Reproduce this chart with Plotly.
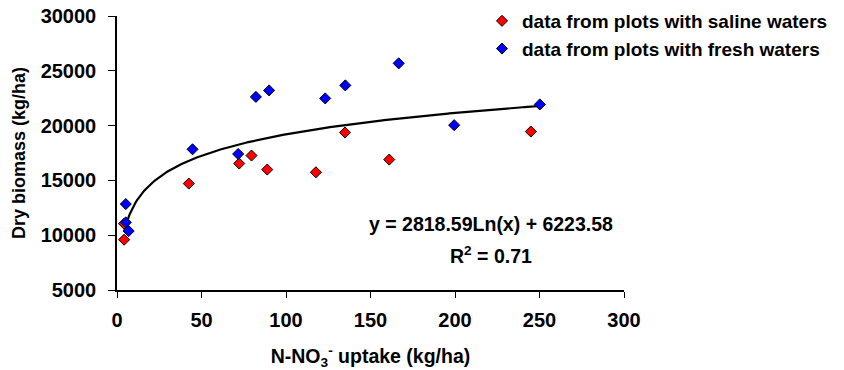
import numpy as np
import plotly.graph_objects as go

# Saline-water plots
saline_x = [4.2, 4.2, 42.5, 72.3, 79.6, 88.9, 117.7, 134.9, 161.1, 244.9]
saline_y = [9590, 11050, 14710, 16540, 17270, 15990, 15740, 19370, 16900, 19460]

# Fresh-water plots
fresh_x = [5.2, 5.2, 6.9, 44.7, 71.7, 82.2, 90.0, 123.2, 135.1, 166.7, 199.5, 250.2]
fresh_y = [12840, 11170, 10380, 17840, 17410, 22620, 23210, 22480, 23670, 25680, 20040, 21930]

# Logarithmic trendline coefficients (from chart label)
fit_a = 2818.59
fit_b = 6223.58
fit_r2 = 0.71
fit_x_range = [4.5, 250]

x_ticks = [0, 50, 100, 150, 200, 250, 300]
y_ticks = [5000, 10000, 15000, 20000, 25000, 30000]
y_tick_labels = ["5000", "10000", "15000", "20000", "25000", "30000"]

FONT = "Arial, Liberation Sans, sans-serif"

W, H = 844, 370
ML, MR, MT, MB = 117, 2, 2, 80
plot_right_px = 624
plot_top_px = 16
paper_w = W - ML - MR
paper_h = H - MT - MB

fx = np.linspace(fit_x_range[0], fit_x_range[1], 300)
fy = fit_a * np.log(fx) + fit_b

fig = go.Figure()
fig.add_trace(go.Scatter(
    x=fx, y=fy, mode="lines", line=dict(color="black", width=2.2),
    showlegend=False, hoverinfo="skip"))
fig.add_trace(go.Scatter(
    x=saline_x, y=saline_y, mode="markers", name="data from plots with saline waters",
    marker=dict(symbol="diamond", size=8.5, color="#FF0000", line=dict(color="black", width=1)),
    legendgroup="a"))
fig.add_trace(go.Scatter(
    x=fresh_x, y=fresh_y, mode="markers", name="data from plots with fresh waters",
    marker=dict(symbol="diamond", size=8.5, color="#0000FF", line=dict(color="black", width=1)),
    legendgroup="b"))

fig.add_annotation(x=221.3, y=11050, xref="x", yref="y",
                   text="y = 2818.59Ln(x) + 6223.58", showarrow=False,
                   font=dict(family=FONT, size=19.5, color="black", weight="bold"))
fig.add_annotation(x=221.3, y=8150, xref="x", yref="y",
                   text="R<sup>2</sup> = %.2f" % fit_r2, showarrow=False,
                   font=dict(family=FONT, size=19.5, color="black", weight="bold"))

fig.update_layout(
    width=W, height=H,
    margin=dict(l=ML, r=MR, t=MT, b=MB),
    paper_bgcolor="white", plot_bgcolor="white",
    font=dict(family=FONT, size=20, color="black", weight="bold"),
    legend=dict(x=(482 - ML) / paper_w, y=1.0,
                xanchor="left", yanchor="top", itemwidth=30,
                font=dict(family=FONT, size=19, color="black", weight="bold"),
                traceorder="grouped", tracegroupgap=0, bgcolor="rgba(0,0,0,0)"),
    xaxis=dict(domain=[0, (plot_right_px - ML) / paper_w],
               range=[0, 300], tickvals=x_ticks,
               ticks="outside", ticklen=6, automargin=False, ticklabelstandoff=5,
               tickfont=dict(family=FONT, size=20, color="black", weight="bold"),
               tickcolor="black", showline=True, linecolor="black", linewidth=1.5,
               showgrid=False, zeroline=False,
               title=dict(text="N-NO<sub>3</sub><sup>-</sup> uptake (kg/ha)", standoff=28,
                          font=dict(family=FONT, size=19.5, color="black", weight="bold"))),
    yaxis=dict(domain=[0, (H - MB - plot_top_px) / paper_h],
               range=[5000, 30000], tickvals=y_ticks, ticktext=y_tick_labels,
               ticks="outside", ticklen=7, automargin=False, ticklabelstandoff=8,
               tickfont=dict(family=FONT, size=20, color="black", weight="bold"),
               tickcolor="black", showline=True, linecolor="black", linewidth=1.5,
               showgrid=False, zeroline=False,
               title=dict(text="Dry biomass (kg/ha)", standoff=10,
                          font=dict(family=FONT, size=18, color="black", weight="bold"))),
)

fig.write_html("out.html", config={"displayModeBar": False},
               post_script="document.body.style.margin='0';document.body.style.overflow='hidden';")
